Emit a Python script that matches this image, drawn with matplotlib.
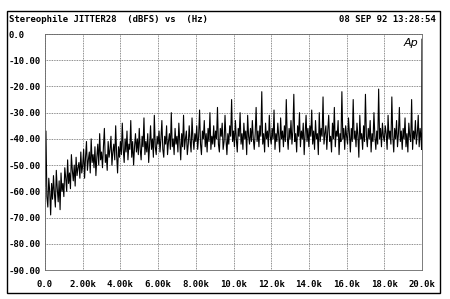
import numpy as np
import matplotlib
matplotlib.use("Agg")
import matplotlib.pyplot as plt
from matplotlib.patches import Rectangle

# jitter spectrum, values (dBFS), 50 Hz steps from 0 to 19.95 kHz
# one row per kHz
level_db = [
    -58, -37, -62, -66, -55, -60, -69, -57, -63, -54, -61, -66, -52, -59, -64, -56, -67, -53, -60, -57,
    -62, -51, -55, -60, -48, -57, -53, -59, -46, -52, -56, -50, -58, -47, -54, -51, -49, -55, -45, -53,
    -50, -44, -55, -47, -41, -52, -48, -45, -53, -40, -49, -46, -51, -43, -54, -47, -42, -50, -38, -48,
    -45, -51, -43, -36, -49, -46, -52, -41, -47, -44, -39, -50, -45, -42, -48, -35, -46, -53, -43, -47,
    -41, -46, -34, -44, -49, -40, -45, -37, -48, -42, -44, -33, -47, -41, -50, -43, -38, -45, -40, -46,
    -36, -44, -48, -39, -43, -32, -46, -41, -45, -38, -49, -42, -35, -44, -40, -47, -31, -43, -46, -39,
    -42, -37, -45, -40, -33, -44, -47, -39, -42, -35, -46, -41, -38, -44, -30, -43, -40, -46, -36, -42,
    -39, -45, -34, -41, -48, -38, -43, -31, -44, -40, -37, -46, -42, -35, -41, -45, -32, -40, -44, -38,
    -41, -35, -44, -39, -29, -42, -46, -37, -40, -33, -43, -38, -45, -36, -41, -30, -44, -39, -42, -35,
    -43, -37, -40, -28, -42, -45, -36, -39, -34, -44, -41, -31, -40, -46, -38, -42, -35, -39, -25, -41,
    -37, -43, -33, -40, -45, -36, -39, -30, -42, -38, -44, -34, -40, -37, -46, -31, -39, -42, -36, -41,
    -33, -40, -44, -38, -28, -41, -37, -43, -35, -39, -22, -42, -38, -45, -34, -40, -37, -43, -31, -39,
    -42, -36, -40, -29, -44, -38, -41, -34, -39, -45, -32, -40, -37, -43, -35, -41, -25, -39, -44, -36,
    -40, -33, -42, -37, -23, -41, -38, -45, -35, -39, -30, -43, -37, -40, -34, -46, -38, -31, -41, -36,
    -43, -35, -39, -29, -42, -37, -44, -33, -40, -38, -46, -30, -41, -36, -39, -24, -42, -38, -35, -44,
    -37, -31, -41, -39, -45, -34, -40, -28, -43, -37, -39, -33, -46, -38, -41, -22, -40, -36, -44, -35,
    -39, -42, -32, -38, -45, -36, -41, -25, -40, -37, -43, -34, -39, -47, -31, -40, -38, -44, -35, -41,
    -23, -39, -43, -36, -40, -33, -45, -38, -41, -30, -39, -44, -37, -42, -21, -40, -36, -43, -34, -39,
    -41, -35, -38, -44, -31, -40, -37, -42, -24, -39, -45, -36, -40, -33, -43, -38, -28, -41, -37, -44,
    -36, -40, -32, -43, -38, -45, -34, -39, -41, -25, -44, -37, -40, -33, -42, -38, -31, -43, -36, -40,
]
freq_hz = list(np.arange(0, 20000, 50))

# the tall line right at the end of the sweep
end_freq = [19980, 20000]
end_level = [-44, -2]

xticks = [0, 2000, 4000, 6000, 8000, 10000, 12000, 14000, 16000, 18000, 20000]
xlabels = ["0.0", "2.00k", "4.00k", "6.00k", "8.00k", "10.0k",
           "12.0k", "14.0k", "16.0k", "18.0k", "20.0k"]
yticks = [0, -10, -20, -30, -40, -50, -60, -70, -80, -90]
ylabels = ["0.0", "-10.00", "-20.00", "-30.00", "-40.00", "-50.00",
           "-60.00", "-70.00", "-80.00", "-90.00"]

mono = "DejaVu Sans Mono"
W, H = 450, 299

fig = plt.figure(figsize=(4.5, 2.99), dpi=100)
ax = fig.add_axes([45 / W, 1 - 270 / H, (422 - 45) / W, (270 - 34) / H])

ax.plot(freq_hz + end_freq, level_db + end_level, color="black", lw=0.8)

ax.set_xlim(0, 20000)
ax.set_ylim(-90, 0)
ax.set_xticks(xticks)
ax.set_xticklabels(xlabels, fontfamily=mono, fontweight="bold", fontsize=6.5)
ax.set_yticks(yticks)
ax.set_yticklabels(ylabels, fontfamily=mono, fontweight="bold", fontsize=6.5)
for lab in ax.get_yticklabels():
    lab.set_horizontalalignment("left")
ax.tick_params(axis="y", length=0, pad=26)
ax.tick_params(axis="x", length=0, pad=7)

ax.grid(True, color="0.4", linestyle=(0, (1, 1)), linewidth=0.6)
for s in ax.spines.values():
    s.set_linestyle((0, (1, 1)))
    s.set_linewidth(0.6)
    s.set_color("0.4")

# header texts
fig.text(9 / W, 1 - 20 / H, "Stereophile JITTER28  (dBFS) vs  (Hz)",
         fontfamily=mono, fontweight="bold", fontsize=6.5, va="center", ha="left")
fig.text(436 / W, 1 - 20 / H, "08 SEP 92 13:28:54",
         fontfamily=mono, fontweight="bold", fontsize=6.5, va="center", ha="right")
fig.text(404 / W, 1 - 43 / H, "Ap", fontsize=8, style="italic",
         va="center", ha="left")

# outer frame
fig.add_artist(Rectangle((7 / W, 1 - 293 / H), (440 - 7) / W, (293 - 11) / H,
                         transform=fig.transFigure, fill=False,
                         edgecolor="black", lw=1.0))

fig.savefig("out.png", dpi=100)
